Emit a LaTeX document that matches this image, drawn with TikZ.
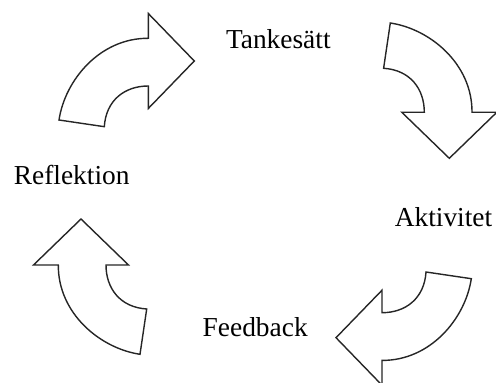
\documentclass[tikz,border=0pt]{standalone}
\usepackage{fontspec}
\setmainfont{Liberation Serif}

\begin{document}
\begin{tikzpicture}[
    x=0.5pt, y=-0.5pt,
    stage/.style={font=\fontsize{13.7}{16}\selectfont, anchor=base, inner sep=0pt},
    outline/.style={draw=black!85, line width=0.7pt, line join=miter, fill=white},
    bentarrow/.pic={
        \draw[outline] (0,0) -- (-46,-47.5) -- (-46,-22.7)
            .. controls (-94.3,-23) and (-129.3,19) .. (-135.3,59)
            -- (-90,65.7)
            .. controls (-88.3,39) and (-69.3,25) .. (-46,25)
            -- (-46,47.5) -- cycle;
    }
]
    \useasboundingbox (0,0) rectangle (496,383);

    % Stages of the cycle
    \node[stage] (tankesatt) at (278.3,48.3) {Tankesätt};
    \node[stage] (aktivitet) at (443.5,227) {Aktivitet};
    \node[stage] (feedback) at (255.2,336.7) {Feedback};
    \node[stage] (reflektion) at (71.7,185) {Reflektion};

    % Curved arrows between the stages
    \pic at (194.3,61) {bentarrow};
    \pic[rotate=-90] at (449.3,158.3) {bentarrow};
    \pic[rotate=180] at (336,337.7) {bentarrow};
    \pic[rotate=90] at (81,219) {bentarrow};
\end{tikzpicture}
\end{document}
